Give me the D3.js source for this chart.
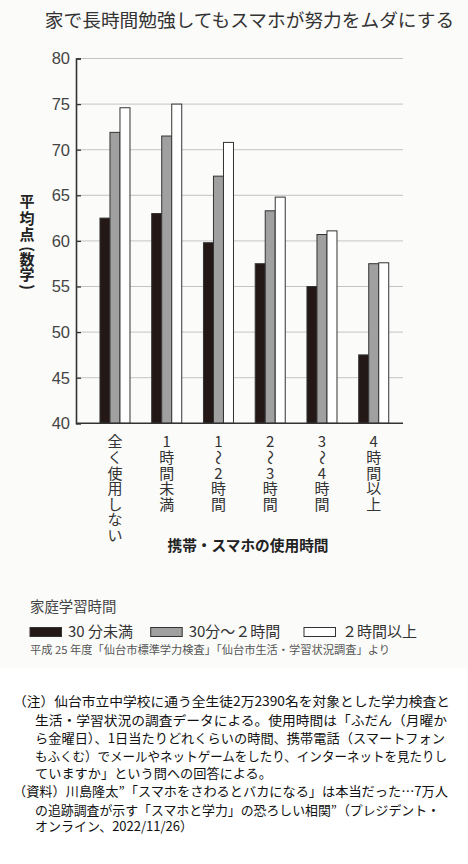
<!DOCTYPE html>
<html>
<head>
<meta charset="utf-8">
<script src="https://cdn.jsdelivr.net/npm/d3@7"></script>
<style>
  html, body { margin: 0; padding: 0; background: #fff; }
  svg { display: block; }
  text { font-family: "Noto Sans CJK JP", "Noto Sans", sans-serif; }
  .tick-label { font-family: "Liberation Sans Narrow", "Liberation Sans", Arial, sans-serif; }
</style>
</head>
<body>
<div id="chart"></div>
<script>
// categories (smartphone use time) and home study series
var categories = ["全く使用しない", "1時間未満", "1〜2時間", "2〜3時間", "3〜4時間", "4時間以上"];
var seriesNames = ["30 分未満", "30分〜２時間", "２時間以上"];
var under30 = [62.5, 63.0, 59.8, 57.5, 55.0, 47.5];
var from30to2h = [71.9, 71.5, 67.1, 63.3, 60.7, 57.5];
var over2h = [74.6, 75.0, 70.8, 64.8, 61.1, 57.6];
var yTicks = [40, 45, 50, 55, 60, 65, 70, 75, 80];

var notes = [
    "（注）仙台市立中学校に通う全生徒2万2390名を対象とした学力検査と",
    "生活・学習状況の調査データによる。使用時間は「ふだん（月曜か",
    "ら金曜日）、1日当たりどれくらいの時間、携帯電話（スマートフォン",
    "もふくむ）でメールやネットゲームをしたり、インターネットを見たりし",
    "ていますか」という問への回答による。",
    "（資料）川島隆太”「スマホをさわるとバカになる」は本当だった…7万人",
    "の追跡調査が示す「スマホと学力」の恐ろしい相関”（プレジデント・",
    "オンライン、2022/11/26）"
];

var W = 468, H = 864;
var colors = ["#231815", "#a0a0a0", "#ffffff"];
var rotated = { "〜": true, "(": true, ")": true };

var svg = d3.select("#chart").append("svg")
    .attr("width", W)
    .attr("height", H);

// faint paper tone behind the chart part
svg.append("rect")
    .attr("x", 0).attr("y", 0)
    .attr("width", W).attr("height", 668)
    .attr("fill", "#fbfbfa");

svg.append("text")
    .attr("x", 249.5)
    .attr("y", 27)
    .attr("text-anchor", "middle")
    .attr("font-size", 18.7)
    .attr("fill", "#333")
    .text("家で長時間勉強してもスマホが努力をムダにする");

var plotLeft = 76, plotRight = 403;
var y = d3.scaleLinear().domain([40, 80]).range([423.3, 58.5]);
var x0 = d3.scaleBand().domain(categories)
    .range([89.1, 399.6])
    .paddingInner(0.42)
    .paddingOuter(0.21);
var x1 = d3.scaleBand().domain(d3.range(seriesNames.length))
    .range([0, x0.bandwidth()]);

// gridlines
svg.append("g").selectAll("line")
    .data(yTicks.slice(1))
  .enter().append("line")
    .attr("x1", plotLeft)
    .attr("x2", plotRight)
    .attr("y1", function(d) { return y(d); })
    .attr("y2", function(d) { return y(d); })
    .attr("stroke", "#c4c4c4")
    .attr("stroke-width", 1);

// y axis
var yAxis = svg.append("g")
    .attr("transform", "translate(" + plotLeft + ",0)")
    .call(d3.axisRight(y).tickValues(yTicks).tickSize(5).tickFormat(""));
yAxis.select(".domain").attr("stroke", "#333").attr("stroke-width", 1.6);
yAxis.selectAll(".tick line").attr("stroke", "#333").attr("stroke-width", 1.3);

svg.append("g").selectAll("text")
    .data(yTicks)
  .enter().append("text")
    .attr("class", "tick-label")
    .attr("x", 70)
    .attr("y", function(d) { return y(d); })
    .attr("dy", "0.36em")
    .attr("text-anchor", "end")
    .attr("font-size", 16.5)
    .attr("fill", "#444")
    .text(function(d) { return d; });

// bars
var rows = categories.map(function(c, i) {
    return { cat: c, values: [under30[i], from30to2h[i], over2h[i]] };
});

var groups = svg.append("g").selectAll("g")
    .data(rows)
  .enter().append("g")
    .attr("transform", function(d) { return "translate(" + x0(d.cat) + ",0)"; });

groups.selectAll("rect")
    .data(function(d) { return d.values.map(function(v, k) { return { k: k, v: v }; }); })
  .enter().append("rect")
    .attr("x", function(d) { return x1(d.k); })
    .attr("width", x1.bandwidth())
    .attr("y", function(d) { return y(d.v); })
    .attr("height", function(d) { return y(40) - y(d.v); })
    .attr("fill", function(d) { return colors[d.k]; })
    .attr("stroke", "#333")
    .attr("stroke-width", 1);

// x axis baseline
svg.append("line")
    .attr("x1", plotLeft).attr("x2", plotRight)
    .attr("y1", y(40)).attr("y2", y(40))
    .attr("stroke", "#333")
    .attr("stroke-width", 1.6);

// vertical category labels, one glyph per row
var catLabels = svg.append("g").selectAll("g")
    .data(categories)
  .enter().append("g")
    .attr("transform", function(d) { return "translate(" + (x0(d) + x0.bandwidth() / 2) + ",0)"; });

catLabels.selectAll("text")
    .data(function(d) { return Array.from(d); })
  .enter().append("text")
    .attr("text-anchor", "middle")
    .attr("font-size", 15)
    .attr("fill", "#333")
    .attr("transform", function(ch, i) {
        var cy = 442 + i * 15.6;
        return "translate(0," + cy + ")" + (rotated[ch] ? " rotate(90)" : "");
    })
    .attr("dy", "0.36em")
    .text(function(ch) { return ch; });

svg.append("text")
    .attr("x", 248)
    .attr("y", 546)
    .attr("dy", "0.36em")
    .attr("text-anchor", "middle")
    .attr("font-size", 14.7)
    .attr("font-weight", 700)
    .attr("fill", "#222")
    .text("携帯・スマホの使用時間");

// y axis title, stacked vertically
var yTitle = ["平", "均", "点", "(", "数", "学", ")"];
var yTitleY = [201.7, 218.3, 235, 249, 260, 275, 287];
svg.append("g").selectAll("text")
    .data(yTitle)
  .enter().append("text")
    .attr("text-anchor", "middle")
    .attr("font-size", 15)
    .attr("font-weight", 700)
    .attr("fill", "#222")
    .attr("transform", function(d, i) {
        return "translate(27," + yTitleY[i] + ")" + (rotated[d] ? " rotate(90)" : "");
    })
    .attr("dy", "0.36em")
    .text(function(d) { return d; });

// legend
svg.append("text")
    .attr("x", 30)
    .attr("y", 607)
    .attr("dy", "0.36em")
    .attr("font-size", 14.4)
    .attr("fill", "#444")
    .text("家庭学習時間");

var legendX = [30, 150.7, 304];
var legend = svg.append("g").selectAll("g")
    .data(seriesNames)
  .enter().append("g")
    .attr("transform", function(d, i) { return "translate(" + legendX[i] + ",632)"; });

legend.append("rect")
    .attr("x", 0).attr("y", -4.5)
    .attr("width", 31.5).attr("height", 9)
    .attr("fill", function(d, i) { return colors[i]; })
    .attr("stroke", "#333")
    .attr("stroke-width", 1);

legend.append("text")
    .attr("x", 38)
    .attr("dy", "0.36em")
    .attr("font-size", 15)
    .attr("fill", "#333")
    .text(function(d) { return d; });

svg.append("text")
    .attr("x", 30)
    .attr("y", 650)
    .attr("dy", "0.36em")
    .attr("font-size", 11)
    .attr("fill", "#555")
    .attr("textLength", 360)
    .attr("lengthAdjust", "spacingAndGlyphs")
    .text("平成 25 年度「仙台市標準学力検査」「仙台市生活・学習状況調査」より");

// notes
var noteX = [13, 35, 35, 35, 35, 13, 35, 35];
var noteEnd = [450, 447, 445, 447, 272, 448, 440, 193];
var noteY = [701.7, 720, 738.3, 756, 773.3, 791.7, 810, 826.7];
svg.append("g").selectAll("text")
    .data(notes)
  .enter().append("text")
    .attr("x", function(d, i) { return noteX[i]; })
    .attr("y", function(d, i) { return noteY[i]; })
    .attr("dy", "0.36em")
    .attr("font-size", 13)
    .attr("fill", "#111")
    .attr("textLength", function(d, i) { return noteEnd[i] - noteX[i]; })
    .attr("lengthAdjust", "spacingAndGlyphs")
    .text(function(d) { return d; });
</script>
</body>
</html>
